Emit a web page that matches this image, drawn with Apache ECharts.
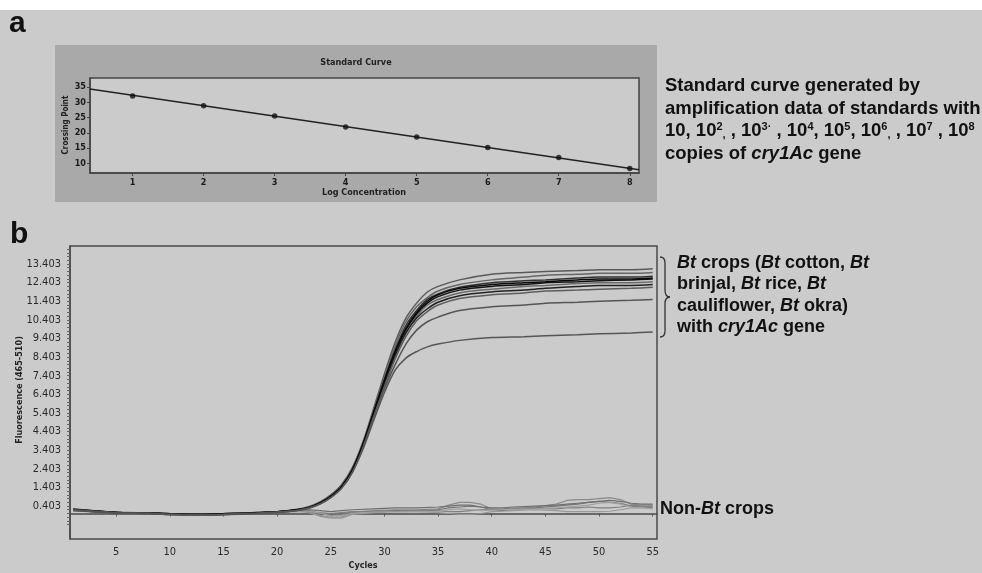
<!DOCTYPE html>
<html>
<head>
<meta charset="utf-8">
<script src="https://cdn.jsdelivr.net/npm/echarts@6/dist/echarts.min.js"></script>
<style>
    html, body { margin: 0; padding: 0; background: #cbcbcb; }
    #chart { width: 982px; height: 573px; }
</style>
</head>
<body>
<div id="chart"></div>
<script>
// a: standard curve (crossing point vs log concentration)
const stdConc = [1, 2, 3, 4, 5, 6, 7, 8];
const stdCp = [32.05, 28.9, 25.5, 21.9, 18.6, 15.2, 11.9, 8.3];
const fitConc = [0.4, 8.13];
const fitCp = [34.4, 7.9];
const stdXTicks = [1, 2, 3, 4, 5, 6, 7, 8];
const stdYTicks = [10, 15, 20, 25, 30, 35];

// b: amplification curves (fluorescence vs cycle)
const ampXTicks = [5, 10, 15, 20, 25, 30, 35, 40, 45, 50, 55];
const ampYTicks = [0.403, 1.403, 2.403, 3.403, 4.403, 5.403, 6.403, 7.403, 8.403, 9.403, 10.403, 11.403, 12.403, 13.403];

const btCycles = [1, 3, 5, 8, 10, 13, 15, 18, 20, 22, 23, 24, 25, 26, 27, 28, 29, 30, 31, 32, 33, 34, 35, 37, 40, 43, 45, 48, 50, 53, 55];
const bt1 = [0.22, 0.15, 0.06, 0.03, -0.02, -0.05, -0.02, 0.04, 0.1, 0.24, 0.38, 0.62, 1.0, 1.55, 2.45, 3.85, 5.65, 7.5, 9.2, 10.5, 11.3, 11.9, 12.2, 12.55, 12.85, 12.95, 13.0, 13.05, 13.1, 13.1, 13.15];
const bt2 = [0.2, 0.12, 0.05, 0.02, -0.03, -0.06, -0.03, 0.02, 0.09, 0.22, 0.35, 0.6, 0.95, 1.5, 2.4, 3.75, 5.5, 7.3, 9.0, 10.3, 11.1, 11.6, 11.95, 12.3, 12.55, 12.7, 12.8, 12.85, 12.9, 12.9, 12.95];
const bt3 = [0.18, 0.1, 0.04, 0.0, -0.05, -0.08, -0.05, 0.01, 0.07, 0.2, 0.33, 0.57, 0.92, 1.45, 2.35, 3.7, 5.4, 7.2, 8.8, 10.1, 10.9, 11.5, 11.8, 12.15, 12.4, 12.5, 12.55, 12.65, 12.7, 12.7, 12.75];
const bt4 = [0.2, 0.12, 0.05, 0.02, -0.03, -0.06, -0.03, 0.02, 0.08, 0.2, 0.32, 0.55, 0.9, 1.4, 2.3, 3.7, 5.4, 7.1, 8.6, 9.85, 10.7, 11.3, 11.65, 12.0, 12.2, 12.3, 12.4, 12.45, 12.5, 12.55, 12.6];
const bt5 = [0.16, 0.1, 0.03, 0.0, -0.06, -0.1, -0.07, -0.01, 0.06, 0.18, 0.3, 0.53, 0.88, 1.38, 2.25, 3.6, 5.3, 6.9, 8.45, 9.7, 10.6, 11.2, 11.5, 11.85, 12.05, 12.2, 12.25, 12.35, 12.4, 12.4, 12.45];
const bt6 = [0.24, 0.14, 0.06, 0.03, -0.01, -0.04, -0.01, 0.05, 0.1, 0.22, 0.34, 0.56, 0.9, 1.42, 2.3, 3.65, 5.35, 7.0, 8.5, 9.7, 10.5, 11.0, 11.35, 11.7, 11.9, 12.0, 12.1, 12.2, 12.25, 12.25, 12.3];
const bt7 = [0.19, 0.11, 0.04, 0.01, -0.04, -0.07, -0.04, 0.01, 0.07, 0.19, 0.31, 0.54, 0.88, 1.38, 2.25, 3.6, 5.25, 6.8, 8.3, 9.5, 10.35, 10.85, 11.2, 11.55, 11.75, 11.85, 11.95, 12.0, 12.05, 12.1, 12.15];
const bt8 = [0.21, 0.13, 0.05, 0.02, -0.02, -0.05, -0.02, 0.03, 0.09, 0.21, 0.33, 0.57, 0.92, 1.44, 2.33, 3.72, 5.45, 7.15, 8.7, 9.95, 10.8, 11.4, 11.75, 12.1, 12.3, 12.4, 12.45, 12.55, 12.6, 12.6, 12.65];
const bt9 = [0.17, 0.1, 0.03, 0.0, -0.05, -0.09, -0.06, 0.0, 0.06, 0.18, 0.3, 0.52, 0.86, 1.35, 2.2, 3.55, 5.2, 6.7, 8.0, 9.1, 9.85, 10.3, 10.55, 10.9, 11.1, 11.2, 11.3, 11.35, 11.4, 11.45, 11.5];
const bt10 = [0.2, 0.12, 0.04, 0.01, -0.04, -0.07, -0.04, 0.02, 0.08, 0.18, 0.3, 0.5, 0.85, 1.35, 2.2, 3.45, 5.0, 6.5, 7.7, 8.35, 8.7, 8.95, 9.1, 9.3, 9.45, 9.5, 9.55, 9.6, 9.65, 9.7, 9.75];

const nonBtCycles = [1, 3, 5, 8, 10, 13, 15, 18, 20, 22, 23, 24, 25, 26, 27, 29, 31, 33, 35, 36, 37, 38, 39, 40, 41, 42, 44, 46, 47, 48, 49, 50, 51, 52, 53, 54, 55];
const nb1 = [0.15, 0.1, 0.05, 0.02, 0.0, -0.02, 0.0, 0.05, 0.08, 0.12, 0.1, -0.1, -0.2, -0.2, 0.05, 0.15, 0.2, 0.2, 0.25, 0.45, 0.6, 0.6, 0.5, 0.25, 0.2, 0.25, 0.35, 0.5, 0.7, 0.75, 0.75, 0.8, 0.85, 0.75, 0.5, 0.45, 0.45];
const nb2 = [0.18, 0.12, 0.06, 0.03, 0.0, -0.03, -0.01, 0.04, 0.09, 0.15, 0.15, 0.0, -0.1, -0.05, 0.1, 0.1, 0.15, 0.15, 0.2, 0.3, 0.35, 0.4, 0.35, 0.2, 0.15, 0.2, 0.3, 0.4, 0.45, 0.5, 0.6, 0.65, 0.6, 0.55, 0.4, 0.35, 0.4];
const nb3 = [0.12, 0.08, 0.02, -0.01, -0.04, -0.06, -0.03, 0.02, 0.06, 0.1, 0.05, -0.15, -0.25, -0.25, -0.05, 0.05, 0.1, 0.1, 0.05, 0.0, -0.05, -0.05, 0.0, 0.1, 0.12, 0.15, 0.2, 0.15, 0.1, 0.1, 0.1, 0.1, 0.12, 0.2, 0.3, 0.3, 0.35];
const nb4 = [0.2, 0.14, 0.07, 0.04, 0.01, -0.01, 0.01, 0.06, 0.1, 0.18, 0.2, 0.15, 0.1, 0.15, 0.2, 0.25, 0.3, 0.3, 0.35, 0.4, 0.45, 0.45, 0.35, 0.3, 0.3, 0.35, 0.4, 0.45, 0.5, 0.55, 0.6, 0.65, 0.7, 0.65, 0.55, 0.5, 0.5];
const nb5 = [0.16, 0.1, 0.04, 0.01, -0.02, -0.04, -0.02, 0.03, 0.07, 0.12, 0.1, 0.05, 0.0, 0.05, 0.1, 0.12, 0.12, 0.15, 0.15, 0.1, 0.1, 0.15, 0.2, 0.22, 0.25, 0.3, 0.28, 0.25, 0.3, 0.3, 0.35, 0.3, 0.3, 0.35, 0.45, 0.4, 0.3];
const nb6 = [0.14, 0.09, 0.03, 0.0, -0.03, -0.05, -0.02, 0.03, 0.07, 0.13, 0.12, 0.02, -0.12, -0.1, 0.0, 0.08, 0.08, 0.1, 0.12, 0.2, 0.25, 0.2, 0.15, 0.18, 0.2, 0.22, 0.25, 0.3, 0.35, 0.4, 0.45, 0.55, 0.6, 0.5, 0.35, 0.3, 0.25];

const btSeries = [bt1, bt2, bt3, bt4, bt5, bt6, bt7, bt8, bt9, bt10];
const btColors = ['#5a5a5a', '#666666', '#333333', '#111111', '#6a6a6a', '#222222', '#5e5e5e', '#0a0a0a', '#555555', '#555555'];
const nonBtSeries = [nb1, nb2, nb3, nb4, nb5, nb6];
const nonBtColors = ['#8a8a8a', '#777777', '#999999', '#6f6f6f', '#808080', '#a0a0a0'];

const FONT = "'Liberation Sans', Arial, sans-serif";
const NARROW = "'Liberation Sans Narrow', 'DejaVu Sans Condensed', 'Liberation Sans', sans-serif";

const zip = (xs, ys) => xs.map((x, i) => [x, ys[i]]);

// minor ticks every 0.2 between the labelled ticks
const ampMinorTicks = [];
ampYTicks.forEach(v => {
    for (let k = -5; k < 5; k++) ampMinorTicks.push(+(v + k * 0.2).toFixed(3));
});

const chart = echarts.init(document.getElementById('chart'), null, { renderer: 'canvas' });

// 文字行（支持斜体 / 上标）
function textLine(x, y, text, size) {
    return {
        type: 'text', x: x, y: y, silent: true,
        style: {
            text: text, fill: '#111', font: 'bold ' + size + 'px ' + FONT,
            align: 'left', verticalAlign: 'middle',
            rich: {
                i: { fontSize: size, fontWeight: 'bold', fontStyle: 'italic', fontFamily: FONT, fill: '#111' },
                s: { fontSize: 11, fontWeight: 'bold', fontFamily: FONT, fill: '#111', verticalAlign: 'top', lineHeight: 12 },
                d: { fontSize: 11, fontWeight: 'bold', fontFamily: FONT, fill: '#111', verticalAlign: 'bottom', lineHeight: 12 }
            }
        }
    };
}

function smallText(x, y, text, size, rotate) {
    return {
        type: 'text', x: x, y: y, rotation: rotate ? Math.PI / 2 : 0, silent: true,
        style: { text: text, fill: '#222', font: 'bold ' + size + 'px ' + NARROW, align: 'center', verticalAlign: 'middle' }
    };
}

const braceStyle = { fill: 'none', stroke: '#333', lineWidth: 1.3 };
const brace = [
    { type: 'bezierCurve', silent: true, shape: { x1: 660, y1: 257, cpx1: 665, cpy1: 257, x2: 665, y2: 263 }, style: braceStyle },
    { type: 'line', silent: true, shape: { x1: 665, y1: 263, x2: 665, y2: 290 }, style: braceStyle },
    { type: 'bezierCurve', silent: true, shape: { x1: 665, y1: 290, cpx1: 665, cpy1: 297, x2: 670, y2: 297 }, style: braceStyle },
    { type: 'bezierCurve', silent: true, shape: { x1: 670, y1: 297, cpx1: 665, cpy1: 297, x2: 665, y2: 304 }, style: braceStyle },
    { type: 'line', silent: true, shape: { x1: 665, y1: 304, x2: 665, y2: 331 }, style: braceStyle },
    { type: 'bezierCurve', silent: true, shape: { x1: 665, y1: 331, cpx1: 665, cpy1: 337, x2: 660, y2: 337 }, style: braceStyle }
];

const option = {
    backgroundColor: '#cbcbcb',
    animation: false,
    grid: [
        { left: 90, top: 78, width: 549, height: 95, show: true, backgroundColor: '#cbcbcb', borderColor: '#444', borderWidth: 1.5 },
        { left: 70, top: 246, width: 587, height: 293, show: true, backgroundColor: 'transparent', borderColor: '#4a4a4a', borderWidth: 1.5 }
    ],
    xAxis: [
        {
            type: 'value', gridIndex: 0, min: 0.4, max: 8.13,
            axisLine: { lineStyle: { color: '#444', width: 1.5 } },
            axisTick: { customValues: stdXTicks, length: 3, lineStyle: { color: '#444' } },
            axisLabel: { customValues: stdXTicks, margin: 5, fontSize: 9, fontWeight: 'bold', fontFamily: NARROW, color: '#1a1a1a' },
            splitLine: { show: false }
        },
        {
            type: 'value', gridIndex: 1, min: 0.7, max: 55.4,
            axisLine: { lineStyle: { color: '#4a4a4a', width: 1.5 } },
            axisTick: { customValues: ampXTicks, length: 3, lineStyle: { color: '#555' } },
            axisLabel: { customValues: ampXTicks, margin: 8, fontSize: 11, fontFamily: NARROW, color: '#2a2a2a' },
            splitLine: { show: false }
        }
    ],
    yAxis: [
        {
            type: 'value', gridIndex: 0, min: 6.8, max: 38,
            axisLine: { show: true, lineStyle: { color: '#444', width: 1.5 } },
            axisTick: { show: true, customValues: stdYTicks, length: 3, lineStyle: { color: '#444' } },
            axisLabel: { customValues: stdYTicks, margin: 4, fontSize: 9, fontWeight: 'bold', fontFamily: NARROW, color: '#1a1a1a' },
            splitLine: { show: false }
        },
        {
            type: 'value', gridIndex: 1, min: -1.37, max: 14.37,
            axisLine: { show: true, lineStyle: { color: '#4a4a4a', width: 1.5 } },
            axisTick: { show: true, customValues: ampMinorTicks, length: 3, lineStyle: { color: '#666' } },
            axisLabel: { customValues: ampYTicks, margin: 9, fontSize: 11, fontFamily: NARROW, color: '#2a2a2a', formatter: v => v.toFixed(3) },
            splitLine: { show: false }
        }
    ],
    graphic: [
        { type: 'rect', z: -10, silent: true, shape: { x: 0, y: 0, width: 982, height: 10 }, style: { fill: '#ffffff' } },
        { type: 'rect', z: -10, silent: true, shape: { x: 55, y: 45, width: 602, height: 157 }, style: { fill: '#a9a9a9' } },
        textLine(9, 24, 'a', 30),
        textLine(10, 235, 'b', 30),
        smallText(356, 63, 'Standard Curve', 9),
        smallText(364, 193, 'Log Concentration', 9),
        smallText(66, 125, 'Crossing Point', 8, true),
        smallText(363, 566, 'Cycles', 9),
        smallText(20, 390, 'Fluorescence (465-510)', 9, true),
        textLine(665, 85.8, 'Standard curve generated by', 18.5),
        textLine(665, 108.5, 'amplification data of standards with', 18.5),
        textLine(665, 130.8, '10, 10{s|2}{d|,} , 10{s|3·} , 10{s|4}, 10{s|5}, 10{s|6}{d|,} , 10{s|7} , 10{s|8}', 18.5),
        textLine(665, 153.5, 'copies of {i|cry1Ac} gene', 18.5),
        textLine(677, 262.7, '{i|Bt} crops ({i|Bt} cotton, {i|Bt}', 18),
        textLine(677, 284.4, 'brinjal, {i|Bt} rice, {i|Bt}', 18),
        textLine(677, 306.4, 'cauliflower, {i|Bt} okra)', 18),
        textLine(677, 327, 'with {i|cry1Ac} gene', 18),
        textLine(660, 508.7, 'Non-{i|Bt} crops', 18)
    ].concat(brace),
    series: [
        {
            name: 'fit', type: 'line', xAxisIndex: 0, yAxisIndex: 0,
            data: zip(fitConc, fitCp), symbol: 'none',
            lineStyle: { color: '#222', width: 1.5 }, z: 3
        },
        {
            name: 'standards', type: 'scatter', xAxisIndex: 0, yAxisIndex: 0,
            data: zip(stdConc, stdCp), symbol: 'circle', symbolSize: 5.5,
            itemStyle: { color: '#111' }, z: 4
        }
    ]
        .concat(nonBtSeries.map((vals, i) => ({
            name: 'nonBt' + (i + 1), type: 'line', xAxisIndex: 1, yAxisIndex: 1,
            data: zip(nonBtCycles, vals), symbol: 'none',
            lineStyle: { color: nonBtColors[i], width: 1.2 }, z: 2
        })))
        .concat(btSeries.map((vals, i) => ({
            name: 'bt' + (i + 1), type: 'line', xAxisIndex: 1, yAxisIndex: 1,
            data: zip(btCycles, vals), symbol: 'none', smooth: 0.3,
            lineStyle: { color: btColors[i], width: 1.5 }, z: 3
        })))
};

chart.setOption(option);
</script>
</body>
</html>
